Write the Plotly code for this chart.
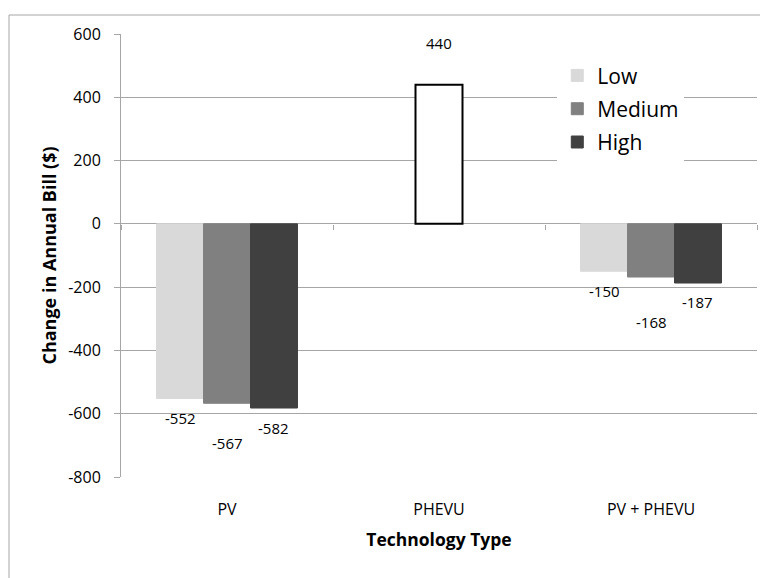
import plotly.graph_objects as go

categories = ["PV", "PHEVU", "PV + PHEVU"]
series_names = ["Low", "Medium", "High"]
low_vals = [-552, None, -150]
medium_vals = [-567, 440, -168]
high_vals = [-582, None, -187]
y_ticks = [-800, -600, -400, -200, 0, 200, 400, 600]
y_tick_text = [str(v) for v in y_ticks]

# label vertical offsets (px) as moved by hand in the original
label_shift = {
    "Low": [-19, 0, -20],
    "Medium": [-40, 42, -45],
    "High": [-20, 0, -19],
}

FONT = "Open Sans"
GRID = "#a6a6a6"
BARGAP = 0.335

fig = go.Figure()
fig.add_bar(name="Low", x=categories, y=low_vals,
            marker=dict(color="#d9d9d9", line=dict(color="#d9d9d9", width=1)),
            legendgroup="a")
fig.add_bar(name="Medium", x=categories, y=medium_vals,
            marker=dict(color=["#808080", "#ffffff", "#808080"],
                        line=dict(color=["#808080", "#000000", "#808080"], width=[1, 2, 1])),
            legendgroup="b")
fig.add_bar(name="High", x=categories, y=high_vals,
            marker=dict(color="#404040", line=dict(color="#404040", width=1)),
            legendgroup="c")
# helper trace for the tick marks on the zero line
fig.add_scatter(x=[None], y=[None], xaxis="x2", showlegend=False, hoverinfo="skip")

annotations = []
all_vals = {"Low": low_vals, "Medium": medium_vals, "High": high_vals}
slot = (1 - BARGAP) / 3
for k, name in enumerate(series_names):
    for i, v in enumerate(all_vals[name]):
        if v is None:
            continue
        annotations.append(dict(
            x=i + (k - 1) * slot, y=v, xref="x", yref="y",
            text=str(v), showarrow=False, yshift=label_shift[name][i],
            font=dict(family=FONT, size=15, color="#000000"),
        ))

fig.update_layout(
    width=760, height=578,
    margin=dict(l=121, r=3, t=34, b=101),
    paper_bgcolor="white", plot_bgcolor="white",
    barmode="group", bargap=BARGAP, bargroupgap=0,
    font=dict(family=FONT, color="#000000"),
    showlegend=True,
    legend=dict(
        x=0.686, y=0.952, xanchor="left", yanchor="top",
        bgcolor="white", font=dict(family=FONT, size=21),
        traceorder="grouped", tracegroupgap=3, itemwidth=30,
    ),
    xaxis=dict(
        range=[-0.5, 2.5], showgrid=False, showline=False, ticks="",
        tickfont=dict(family=FONT, size=16), ticklabelstandoff=21,
        title=dict(text="<b>Technology Type</b>", font=dict(family=FONT, size=17.5), standoff=14),
    ),
    xaxis2=dict(
        overlaying="x", anchor="free", position=800 / 1400, range=[-0.5, 2.5],
        tickmode="array", tickvals=[-0.5, 0.5, 1.5, 2.5], ticks="outside", ticklen=5,
        tickcolor=GRID, showticklabels=False, showgrid=False, showline=False, zeroline=False,
    ),
    yaxis=dict(
        range=[-800, 600], tickmode="array", tickvals=y_ticks, ticktext=y_tick_text,
        showgrid=True, gridcolor=GRID, gridwidth=1,
        zeroline=True, zerolinecolor=GRID, zerolinewidth=1,
        showline=True, linecolor=GRID, linewidth=1,
        ticks="outside", ticklen=6, tickcolor=GRID, ticklabelstandoff=10,
        tickfont=dict(family=FONT, size=16),
        title=dict(text="<b>Change in Annual Bill ($)</b>", font=dict(family=FONT, size=18), standoff=6),
    ),
    annotations=annotations,
    shapes=[dict(type="rect", xref="paper", yref="paper",
                 x0=(9 - 121) / 636, x1=1.3, y0=-0.5, y1=(477 - 15) / 443,
                 line=dict(color=GRID, width=1), fillcolor="rgba(0,0,0,0)", layer="below")],
)

fig.write_html("out.html")
